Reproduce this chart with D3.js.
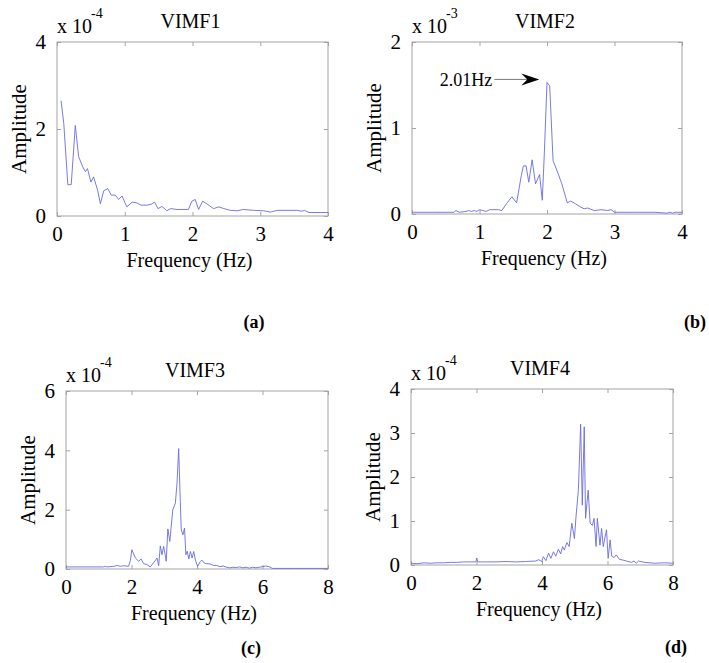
<!DOCTYPE html>
<html><head><meta charset="utf-8">
<script src="https://cdn.jsdelivr.net/npm/d3@7"></script>
<style>body{margin:0;background:#fff} svg{display:block}</style>
</head><body>
<script>
// ---- data (amplitudes in units of the panel's exponent) ----
const vimf1Freq = [0.06,0.10,0.16,0.21,0.27,0.32,0.38,0.42,0.45,0.50,0.54,0.60,0.64,0.69,0.75,0.80,0.86,0.91,0.96,1.03,1.11,1.18,1.24,1.33,1.39,1.44,1.49,1.55,1.62,1.68,1.77,1.94,1.99,2.04,2.09,2.15,2.21,2.31,2.39,2.46,2.56,2.66,2.75,2.90,3.05,3.15,3.25,3.54,3.62,3.65,3.72,4.00];
const vimf1Amp  = [2.65,2.13,0.72,0.72,2.08,1.36,1.13,1.02,1.09,0.78,0.90,0.59,0.28,0.58,0.63,0.48,0.48,0.38,0.46,0.21,0.32,0.30,0.25,0.25,0.27,0.32,0.17,0.22,0.12,0.17,0.15,0.15,0.34,0.38,0.15,0.34,0.28,0.17,0.21,0.17,0.13,0.12,0.15,0.13,0.12,0.09,0.13,0.13,0.11,0.13,0.08,0.08];

const vimf2Freq = [0.00,0.30,0.62,0.65,0.70,0.80,0.84,0.88,0.92,0.96,1.00,1.05,1.10,1.15,1.20,1.28,1.33,1.40,1.48,1.55,1.62,1.65,1.69,1.73,1.78,1.83,1.89,1.93,1.96,2.00,2.04,2.09,2.15,2.22,2.30,2.35,2.42,2.50,2.55,2.60,2.70,2.80,2.90,2.95,3.00,3.30,3.60,3.78,3.82,3.86,3.90,4.00];
const vimf2Amp  = [0.02,0.02,0.02,0.04,0.02,0.03,0.04,0.03,0.04,0.03,0.05,0.04,0.03,0.05,0.05,0.05,0.04,0.12,0.20,0.13,0.45,0.56,0.56,0.37,0.63,0.35,0.46,0.16,0.70,1.53,1.49,0.62,0.50,0.35,0.13,0.15,0.12,0.08,0.06,0.07,0.04,0.05,0.04,0.05,0.02,0.02,0.02,0.01,0.02,0.01,0.02,0.02];

const vimf3Freq = [0.00,1.15,1.20,1.25,1.46,1.56,1.66,1.76,1.91,1.97,2.01,2.12,2.22,2.29,2.37,2.47,2.57,2.68,2.78,2.83,2.88,2.93,2.98,3.03,3.06,3.11,3.17,3.26,3.34,3.39,3.44,3.49,3.52,3.57,3.62,3.66,3.70,3.75,3.80,3.85,3.90,3.95,4.02,4.10,4.15,4.22,4.30,4.40,4.50,4.60,4.70,4.80,4.90,5.00,5.10,5.20,5.30,5.40,5.50,5.60,5.70,5.80,5.90,6.00,6.10,6.20,6.30,7.00,8.00];
const vimf3Amp  = [0.07,0.07,0.09,0.07,0.09,0.12,0.09,0.11,0.09,0.30,0.65,0.37,0.26,0.34,0.18,0.15,0.07,0.22,0.37,0.11,0.78,0.48,0.76,0.48,0.26,1.35,0.93,1.99,2.22,2.89,4.06,2.27,1.32,1.15,1.38,0.48,0.60,0.34,0.59,0.37,0.59,0.30,0.09,0.25,0.30,0.20,0.18,0.17,0.12,0.12,0.08,0.10,0.06,0.04,0.06,0.05,0.07,0.04,0.06,0.03,0.06,0.04,0.06,0.08,0.10,0.08,0.02,0.02,0.02];

const vimf4Freq = [0.00,0.20,0.40,0.60,0.80,1.00,1.20,1.40,1.60,1.80,1.98,2.01,2.04,2.30,2.60,2.90,3.20,3.50,3.80,3.90,3.99,4.04,4.12,4.20,4.27,4.35,4.42,4.50,4.57,4.63,4.68,4.76,4.83,4.91,4.99,5.04,5.11,5.18,5.23,5.29,5.33,5.41,5.47,5.54,5.59,5.65,5.69,5.77,5.82,5.87,5.97,6.02,6.08,6.13,6.20,6.27,6.36,6.48,6.58,6.73,6.81,6.88,6.95,7.14,7.44,7.75,8.00];
const vimf4Amp  = [0.04,0.03,0.05,0.04,0.05,0.05,0.06,0.06,0.07,0.07,0.07,0.16,0.07,0.07,0.07,0.08,0.07,0.08,0.09,0.12,0.08,0.19,0.10,0.27,0.15,0.30,0.20,0.36,0.25,0.42,0.34,0.51,0.42,0.95,0.60,1.11,1.70,3.20,1.36,3.14,1.06,1.70,0.95,0.90,1.06,0.42,1.06,0.45,0.83,0.42,0.80,0.15,0.57,0.20,0.17,0.23,0.13,0.11,0.09,0.06,0.09,0.04,0.09,0.06,0.04,0.05,0.04];

const titles    = ["VIMF1","VIMF2","VIMF3","VIMF4"];
const tags      = ["(a)","(b)","(c)","(d)"];
const exponents = ["-4","-3","-4","-4"];
const xTicks1 = [0,1,2,3,4], xTicks2 = [0,2,4,6,8];
const yTicksA = [0,2,4], yTicksB = [0,1,2], yTicksC = [0,2,4,6], yTicksD = [0,1,2,3,4];
const peakLabel = "2.01Hz";
const peakArrow = [1.22, 1.886, 1.565]; // x from, x to, y (VIMF2 units)

// ---- layout ----
const W = 709, H = 663;
const svg = d3.select("body").append("svg").attr("width", W).attr("height", H);
const FONT = "'Liberation Serif','Times New Roman',serif";

const panels = [
  {freq:vimf1Freq, amp:vimf1Amp, xMax:4, yMax:4, xt:xTicks1, yt:yTicksA, box:{l:57,r:328,t:42,b:216}, tag:{x:254,y:328}},
  {freq:vimf2Freq, amp:vimf2Amp, xMax:4, yMax:2, xt:xTicks1, yt:yTicksB, box:{l:412,r:682,t:42,b:214}, tag:{x:695,y:328}},
  {freq:vimf3Freq, amp:vimf3Amp, xMax:8, yMax:6, xt:xTicks2, yt:yTicksC, box:{l:66,r:328,t:391,b:569}, tag:{x:251,y:654}},
  {freq:vimf4Freq, amp:vimf4Amp, xMax:8, yMax:4, xt:xTicks2, yt:yTicksD, box:{l:411,r:673,t:389,b:565}, tag:{x:676,y:653}}
];

panels.forEach((p, i) => {
  const b = p.box;
  const x = d3.scaleLinear().domain([0, p.xMax]).range([b.l, b.r]);
  const y = d3.scaleLinear().domain([0, p.yMax]).range([b.b, b.t]);
  const g = svg.append("g");

  // box
  g.append("rect").attr("x", b.l).attr("y", b.t).attr("width", b.r-b.l).attr("height", b.b-b.t)
    .attr("fill", "none").attr("stroke", "#a3a3a3").attr("stroke-width", 1);

  const styleAxis = sel => {
    sel.select(".domain").remove();
    sel.selectAll(".tick line").attr("stroke", "#a3a3a3");
    sel.selectAll(".tick text").attr("fill", "#000").style("font-family", FONT).style("font-size", "21px");
  };
  g.append("g").attr("transform", `translate(0,${b.b})`)
    .call(d3.axisBottom(x).tickValues(p.xt).tickSize(-4).tickPadding(10).tickFormat(d3.format("d"))).call(styleAxis);
  g.append("g").attr("transform", `translate(0,${b.t})`)
    .call(d3.axisTop(x).tickValues(p.xt).tickSize(-4).tickFormat("")).call(styleAxis);
  g.append("g").attr("transform", `translate(${b.l},0)`)
    .call(d3.axisLeft(y).tickValues(p.yt).tickSize(-4).tickPadding(11).tickFormat(d3.format("d"))).call(styleAxis);
  g.append("g").attr("transform", `translate(${b.r},0)`)
    .call(d3.axisRight(y).tickValues(p.yt).tickSize(-4).tickFormat("")).call(styleAxis);

  // line
  const pts = p.freq.map((f, k) => [f, p.amp[k]]);
  g.append("path").datum(pts)
    .attr("d", d3.line().x(d => x(d[0])).y(d => y(d[1])))
    .attr("fill", "none").attr("stroke", "#6a6ae8").attr("stroke-width", 0.9);

  // texts
  const tx = (s, xx, yy, opt={}) => g.append("text").text(s).attr("x", xx).attr("y", yy)
    .attr("text-anchor", opt.anchor || "middle").style("font-family", opt.font || FONT)
    .style("font-size", (opt.size || 20) + "px").style("font-weight", opt.weight || "normal")
    .attr("transform", opt.rot ? `rotate(-90,${xx},${yy})` : null);

  tx(titles[i], (b.l+b.r)/2 - 2, b.t - 14);
  tx("x 10", b.l, b.t - 9, {anchor:"start"});
  tx(exponents[i], b.l + 34, b.t - 24, {anchor:"start", size:14});
  tx("Frequency (Hz)", (b.l+b.r)/2 - 3, b.b + 51);
  tx("Amplitude", b.l - 31, (b.t+b.b)/2, {rot:true, size:21});
  tx(tags[i], p.tag.x, p.tag.y, {weight:"bold", size:18});

  if (i === 1) {
    const [x0, x1, yy] = peakArrow;
    g.append("line").attr("x1", x(x0)).attr("x2", x(x1) - 10).attr("y1", y(yy)).attr("y2", y(yy))
      .attr("stroke", "#555").attr("stroke-width", 0.8);
    const tipX = x(x1), tipY = y(yy);
    g.append("path").attr("d", `M${tipX},${tipY} L${tipX-18},${tipY-6} L${tipX-12},${tipY} L${tipX-18},${tipY+6} Z`)
      .attr("fill", "#000");
    tx(peakLabel, x(x0) - 2, y(yy) + 7, {anchor:"end", size:18});
  }
});
</script>
</body></html>
